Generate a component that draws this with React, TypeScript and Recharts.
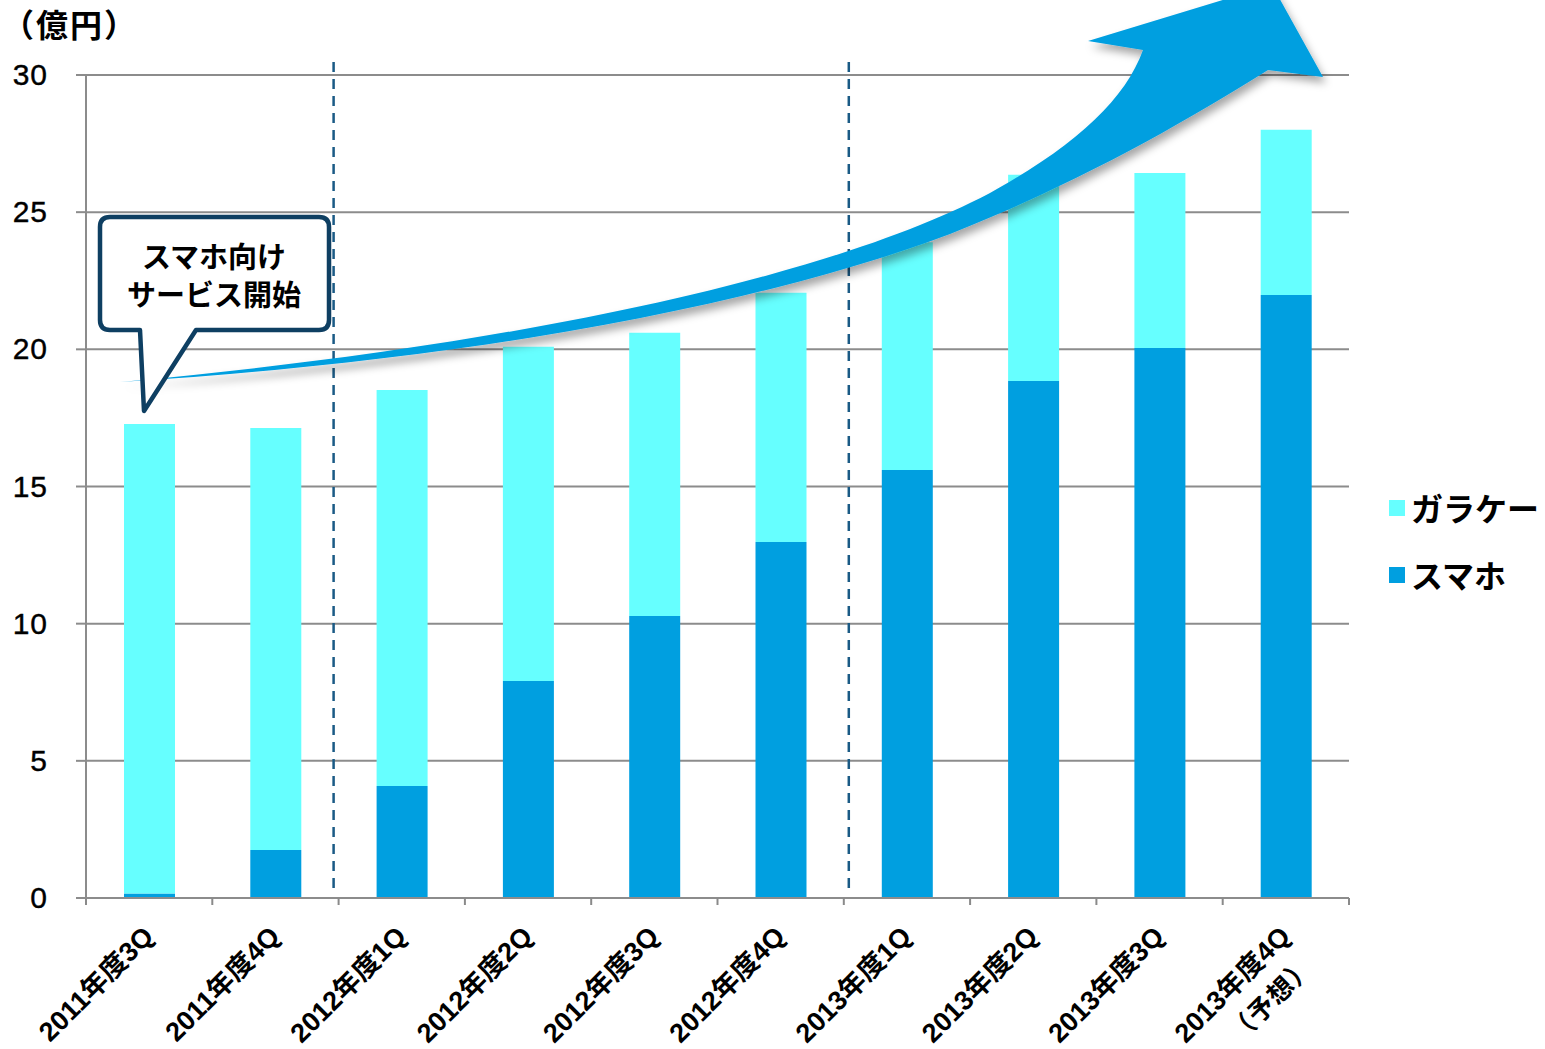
import React from 'react';
import { BarChart, Bar, XAxis, YAxis, CartesianGrid } from 'recharts';

const categories = ['2011年度3Q', '2011年度4Q', '2012年度1Q', '2012年度2Q', '2012年度3Q', '2012年度4Q', '2013年度1Q', '2013年度2Q', '2013年度3Q', '2013年度4Q'];
const subLabels = ['', '', '', '', '', '', '', '', '', '（予想）'];
const smartphone = [0.16, 1.75, 4.08, 7.91, 10.28, 12.98, 15.6, 18.85, 20.05, 21.98];
const featurePhone = [17.12, 15.38, 14.44, 12.18, 10.32, 9.08, 8.3, 7.51, 6.38, 6.02];
const yTicks = [0, 5, 10, 15, 20, 25, 30];
const unitLabel = '（億円）';
const calloutLines = ['スマホ向け', 'サービス開始'];
const series = [
  { key: 'sp', name: 'スマホ', color: '#009FE0' },
  { key: 'fp', name: 'ガラケー', color: '#66FFFF' },
];

const data = categories.map((c, i) => ({ cat: c, sub: subLabels[i], sp: smartphone[i], fp: featurePhone[i] }));

const W = 1545;
const H = 1049;
const PLOT_L = 86;
const PLOT_T = 75;
const PLOT_R = 1349;
const PLOT_B = 898;
const BAND = (PLOT_R - PLOT_L) / categories.length;
const FONT = '"Noto Sans CJK JP", "Noto Sans", sans-serif';
const NUMFONT = '"Liberation Sans", "Noto Sans CJK JP", sans-serif';

const XTick = (props: any) => {
  const { x, index, payload } = props;
  const i = index ?? 0;
  const sub = subLabels[categories.indexOf(payload.value)] || '';
  const left = x - BAND / 2;
  return (
    <g>
      <line x1={left} y1={PLOT_B} x2={left} y2={PLOT_B + 7} stroke="#8a8a8a" strokeWidth={2} />
      {i === categories.length - 1 && (
        <line x1={x + BAND / 2} y1={PLOT_B} x2={x + BAND / 2} y2={PLOT_B + 7} stroke="#8a8a8a" strokeWidth={2} />
      )}
      <g transform={`translate(${x + 6},${PLOT_B + 40}) rotate(-45)`}>
        <text x={0} y={0} textAnchor="end" fontFamily={NUMFONT} fontWeight={700} fontSize={27} fill="#000">
          {payload.value}
        </text>
        {sub && (
          <text x={-58} y={38} textAnchor="middle" fontFamily={FONT} fontWeight={700} fontSize={26} fill="#000" letterSpacing={1}>
            {sub}
          </text>
        )}
      </g>
    </g>
  );
};

const YTick = (props: any) => {
  const { x, y, payload } = props;
  return (
    <text x={x} y={y} dy={10} textAnchor="end" fontFamily={NUMFONT} fontWeight={400} fontSize={30} fill="#000" letterSpacing={1} stroke="#000" strokeWidth={0.4}>
      {payload.value}
    </text>
  );
};

export default function App() {
  const b1 = PLOT_L + BAND * 2 - 5;
  const b2 = PLOT_L + BAND * 6 + 5;
  const legendItems = [...series].reverse();
  return (
    <div style={{ position: 'absolute', left: 0, top: 0, width: W, height: H, background: '#fff', overflow: 'hidden' }}>
      <BarChart
        width={W}
        height={H}
        data={data}
        margin={{ top: PLOT_T, right: W - PLOT_R, bottom: 0, left: 0 }}
        barSize={51}
      >
        <CartesianGrid vertical={false} stroke="#8c8c8c" strokeWidth={2} />
        <XAxis
          dataKey="cat"
          height={H - PLOT_B}
          tickLine={false}
          axisLine={{ stroke: '#8c8c8c', strokeWidth: 2 }}
          tick={<XTick />}
          interval={0}
        />
        <YAxis
          width={PLOT_L}
          domain={[0, 30]}
          ticks={yTicks}
          tickSize={10}
          tickMargin={28}
          tickLine={{ stroke: '#8c8c8c', strokeWidth: 2 }}
          axisLine={{ stroke: '#8c8c8c', strokeWidth: 2 }}
          tick={<YTick />}
        />
        {series.map((s) => (
          <Bar key={s.key} dataKey={s.key} name={s.name} stackId="a" fill={s.color} isAnimationActive={false} />
        ))}
      </BarChart>
      <svg width={W} height={H} style={{ position: 'absolute', left: 0, top: 0, pointerEvents: 'none' }}>
        <defs>
          <filter id="shadow" filterUnits="userSpaceOnUse" x="0" y="-40" width="1450" height="500">
            <feDropShadow dx="3" dy="6" stdDeviation="4" floodColor="#000" floodOpacity="0.35" />
          </filter>
        </defs>
        <line x1={b1} y1={62} x2={b1} y2={888} stroke="#1A5A85" strokeWidth={2.5} strokeDasharray="10 7" />
        <line x1={b2} y1={62} x2={b2} y2={888} stroke="#1A5A85" strokeWidth={2.5} strokeDasharray="10 7" />
        <path
          d="M120 382 C 480 350, 820 283, 990 193 C 1075 146, 1125 100, 1143 50 L 1088 41 L 1272 -15 L 1323 77 L 1268 70 C 1180 125, 1080 182, 950 234 C 750 309, 450 362, 120 382 Z"
          fill="#009FE0"
          filter="url(#shadow)"
        />
        <path
          d="M110 217 Q100 217 100 227 L100 320 Q100 330 110 330 L140 330 L144 411 L196 330 L319 330 Q329 330 329 320 L329 227 Q329 217 319 217 Z"
          fill="#fff"
          stroke="#0E3F62"
          strokeWidth={4.5}
          strokeLinejoin="round"
        />
        {calloutLines.map((t, i) => (
          <text key={t} x={214} y={268 + i * 38} textAnchor="middle" fontFamily={FONT} fontWeight={700} fontSize={29} fill="#000">
            {t}
          </text>
        ))}
        <text x={2} y={37} fontFamily={FONT} fontWeight={700} fontSize={32} fill="#000" letterSpacing={2}>
          {unitLabel}
        </text>
        {legendItems.map((s, i) => (
          <g key={s.key}>
            <rect x={1389} y={500 + i * 67} width={16} height={16} fill={s.color} />
            <text x={1411} y={521 + i * 67} fontFamily={FONT} fontWeight={700} fontSize={32} fill="#000">
              {s.name}
            </text>
          </g>
        ))}
      </svg>
    </div>
  );
}
